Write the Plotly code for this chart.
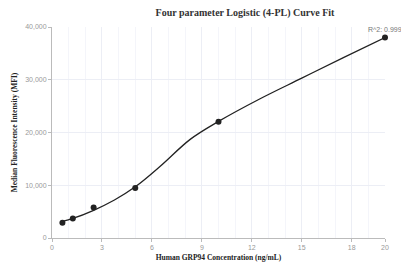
import plotly.graph_objects as go

conc = [0.625, 1.25, 2.5, 5, 10, 20]
mfi = [2900, 3700, 5800, 9500, 22050, 38000]

curve_x = [0.625, 1.25, 2.5, 3.75, 5, 6.5, 8.3, 10, 12.5, 15, 17.5, 20]
curve_y = [3150, 3700, 5250, 7200, 9700, 13600, 18700, 22100, 26400, 30300, 34200, 38000]

x_ticks = [0, 3, 6, 9, 12, 15, 18, 20]
y_ticks = [0, 10000, 20000, 30000, 40000]
r2_text = "R^2: 0.999"

fig = go.Figure()
fig.add_trace(go.Scatter(x=curve_x, y=curve_y, mode="lines",
                         line=dict(color="#222222", width=1.3, shape="spline", smoothing=1.0),
                         hoverinfo="skip", cliponaxis=False))
fig.add_trace(go.Scatter(x=conc, y=mfi, mode="markers",
                         marker=dict(color="#222222", size=6), cliponaxis=False))

fig.add_annotation(x=conc[-1], y=mfi[-1], text=r2_text, showarrow=False,
                   yshift=8, xanchor="center",
                   font=dict(family="Liberation Sans, Arial", size=7, color="#777777"))

fig.update_layout(
    width=401, height=273,
    margin=dict(l=52, r=15, t=27, b=31),
    paper_bgcolor="white", plot_bgcolor="white",
    showlegend=False,
    title=dict(text="<b>Four parameter Logistic (4-PL) Curve Fit</b>",
               x=(52 + 193) / 401, xanchor="center", y=1 - 12 / 273, yanchor="middle",
               font=dict(family="Liberation Serif, Times New Roman", size=10, color="#333333")),
)
fig.update_xaxes(
    range=[0, 20], tickvals=x_ticks, ticktext=[str(v) for v in x_ticks],
    showline=True, linecolor="#bbbbbb", linewidth=1,
    ticks="outside", ticklen=3, tickcolor="#bbbbbb",
    showgrid=True, gridcolor="#eceef5", gridwidth=1,
    minor=dict(dtick=1, showgrid=True, gridcolor="#f4f5fa", gridwidth=1),
    zeroline=False,
    tickfont=dict(family="Liberation Sans, Arial", size=7, color="#999999"),
    title=dict(text="<b>Human GRP94 Concentration (ng/mL)</b>", standoff=4,
               font=dict(family="Liberation Serif, Times New Roman", size=7.5, color="#222222")),
)
fig.update_yaxes(
    range=[0, 40000], tickvals=y_ticks, tickformat=",",
    showline=True, linecolor="#bbbbbb", linewidth=1,
    ticks="outside", ticklen=3, tickcolor="#bbbbbb",
    showgrid=True, gridcolor="#eceef5", gridwidth=1,
    zeroline=False,
    tickfont=dict(family="Liberation Sans, Arial", size=7, color="#999999"),
    title=dict(text="<b>Median Fluorescence Intensity (MFI)</b>", standoff=6,
               font=dict(family="Liberation Serif, Times New Roman", size=7.5, color="#222222")),
)

fig.write_html("out.html", config={"displayModeBar": False},
               post_script="document.body.style.margin='0';document.body.style.overflow='hidden';")
